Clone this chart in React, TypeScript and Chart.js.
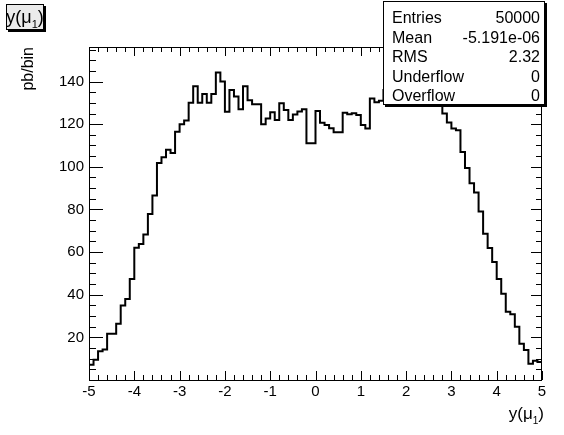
import React, { useEffect, useRef } from 'react';
import { Chart, registerables } from 'chart.js';

Chart.register(...registerables);

// ---- data ----
const X_MIN = -5;
const X_MAX = 5;
const BIN_WIDTH = 0.1;
const BIN_VALUES = [
  7.2, 9.5, 13.5, 14.3, 21.7, 21.7, 26.4, 34.9, 38.0, 47.4,
  62.0, 63.8, 68.2, 77.9, 86.6, 101.8, 104.5, 108.0, 106.5, 116.5,
  120.0, 121.7, 130.1, 137.8, 130.1, 134.1, 130.1, 134.1, 144.2, 140.0,
  125.8, 136.0, 133.0, 127.0, 137.8, 131.2, 129.3, 129.3, 120.0, 122.7,
  125.6, 122.0, 129.8, 126.7, 122.0, 124.5, 126.0, 127.0, 111.0, 111.0,
  126.2, 120.7, 119.6, 118.1, 116.2, 116.2, 125.4, 124.6, 125.1, 124.3,
  119.6, 118.0, 132.0, 130.3, 131.0, 136.0, 133.0, 139.0, 135.0, 142.0,
  137.0, 148.7, 138.0, 140.0, 134.0, 136.0, 132.0, 130.0, 125.0, 120.8,
  118.0, 117.2, 107.0, 99.4, 92.3, 88.0, 79.0, 68.6, 61.9, 55.3,
  47.4, 40.5, 32.0, 30.8, 25.0, 17.0, 14.1, 7.6, 9.0, 8.4,
];
const X_TICKS = [-5, -4, -3, -2, -1, 0, 1, 2, 3, 4, 5];
const X_MINOR_STEP = 0.2;
const Y_TICKS = [20, 40, 60, 80, 100, 120, 140];
const Y_MINOR_STEP = 5;
const Y_MIN = 0;
const Y_MAX = 156.2;
const STATS_LABELS = ['Entries', 'Mean', 'RMS', 'Underflow', 'Overflow'];
const STATS_VALUES = ['50000', '-5.191e-06', '2.32', '0', '0'];
const Y_TITLE = 'pb/bin';
const VAR_MAIN = 'y(\u03bc';
const VAR_SUB = '1';
const VAR_CLOSE = ')';

const FONT = '"Liberation Sans", Arial, Helvetica, sans-serif';

function drawVarLabel(ctx: CanvasRenderingContext2D, x: number, y: number, size: number, align: 'left' | 'right' | 'center') {
  ctx.save();
  ctx.textBaseline = 'alphabetic';
  ctx.textAlign = 'left';
  ctx.font = `${size}px ${FONT}`;
  const w1 = ctx.measureText(VAR_MAIN).width;
  const w3 = ctx.measureText(VAR_CLOSE).width;
  ctx.font = `${Math.round(size * 0.6)}px ${FONT}`;
  const w2 = ctx.measureText(VAR_SUB).width;
  const total = w1 + w2 + w3;
  let sx = x;
  if (align === 'right') sx = x - total;
  if (align === 'center') sx = x - total / 2;
  ctx.fillStyle = '#000';
  ctx.font = `${size}px ${FONT}`;
  ctx.fillText(VAR_MAIN, sx, y);
  ctx.font = `${Math.round(size * 0.6)}px ${FONT}`;
  ctx.fillText(VAR_SUB, sx + w1, y + size * 0.3);
  ctx.font = `${size}px ${FONT}`;
  ctx.fillText(VAR_CLOSE, sx + w1 + w2, y);
  ctx.restore();
}

const decorPlugin = {
  id: 'rootDecor',
  afterDraw(chart: any) {
    const ctx: CanvasRenderingContext2D = chart.ctx;
    const { left, right, top, bottom } = chart.chartArea;
    const xs = chart.scales.x;
    const ys = chart.scales.y;
    ctx.save();
    ctx.strokeStyle = '#000';
    ctx.lineWidth = 1;
    // frame
    ctx.strokeRect(Math.round(left) + 0.5, Math.round(top) + 0.5, Math.round(right - left) - 1, Math.round(bottom - top));
    ctx.beginPath();
    // x ticks (bottom and top)
    const nMinorX = Math.round((X_MAX - X_MIN) / X_MINOR_STEP);
    for (let i = 0; i <= nMinorX; i++) {
      const v = X_MIN + i * X_MINOR_STEP;
      const isMajor = X_TICKS.some((t) => Math.abs(t - v) < 1e-6);
      const px = Math.round(xs.getPixelForValue(v)) + 0.5;
      const len = isMajor ? 9 : 5;
      ctx.moveTo(px, bottom);
      ctx.lineTo(px, bottom - len);
      ctx.moveTo(px, top);
      ctx.lineTo(px, top + len);
    }
    // y ticks (left and right)
    const nMinorY = Math.floor((Y_MAX - Y_MIN) / Y_MINOR_STEP);
    for (let i = 1; i <= nMinorY; i++) {
      const v = Y_MIN + i * Y_MINOR_STEP;
      const isMajor = Y_TICKS.includes(v);
      const py = Math.round(ys.getPixelForValue(v)) + 0.5;
      ctx.moveTo(left, py);
      ctx.lineTo(left + (isMajor ? 14 : 7), py);
      ctx.moveTo(right, py);
      ctx.lineTo(right - (isMajor ? 11 : 6), py);
    }
    ctx.stroke();

    // y axis title
    ctx.save();
    ctx.translate(29, top);
    ctx.rotate(-Math.PI / 2);
    ctx.font = `16px ${FONT}`;
    ctx.fillStyle = '#000';
    ctx.textAlign = 'right';
    ctx.textBaseline = 'middle';
    ctx.fillText(Y_TITLE, 0, 0);
    ctx.restore();

    // x axis title
    drawVarLabel(ctx, right + 2, 419, 17, 'right');

    // title box
    const tb = { x: 6, y: 4, w: 38, h: 26 };
    ctx.fillStyle = '#000';
    ctx.fillRect(tb.x + 2, tb.y + 2, tb.w, tb.h);
    ctx.fillStyle = '#ebebeb';
    ctx.fillRect(tb.x, tb.y, tb.w, tb.h);
    ctx.strokeRect(tb.x + 0.5, tb.y + 0.5, tb.w - 1, tb.h - 1);
    drawVarLabel(ctx, tb.x + tb.w / 2, tb.y + 19, 18, 'center');

    // stats box
    const sb = { x: 383, y: 1, w: 162, h: 104 };
    ctx.fillStyle = '#000';
    ctx.fillRect(sb.x + 2, sb.y + 2, sb.w, sb.h);
    ctx.fillStyle = '#fff';
    ctx.fillRect(sb.x, sb.y, sb.w, sb.h);
    ctx.strokeRect(sb.x + 0.5, sb.y + 0.5, sb.w - 1, sb.h - 1);
    ctx.font = `16px ${FONT}`;
    ctx.fillStyle = '#000';
    ctx.textBaseline = 'alphabetic';
    const rowH = 19.5;
    for (let i = 0; i < STATS_LABELS.length; i++) {
      const base = sb.y + 22 + i * rowH;
      ctx.textAlign = 'left';
      ctx.fillText(STATS_LABELS[i], sb.x + 9, base);
      ctx.textAlign = 'right';
      ctx.fillText(STATS_VALUES[i], sb.x + sb.w - 5, base);
    }
    ctx.restore();
  },
};

export default function App() {
  const canvasRef = useRef<HTMLCanvasElement | null>(null);

  useEffect(() => {
    const canvas = canvasRef.current;
    if (!canvas) return;
    const points: { x: number; y: number }[] = BIN_VALUES.map((v, i) => ({ x: X_MIN + i * BIN_WIDTH, y: v }));
    points.push({ x: X_MAX, y: BIN_VALUES[BIN_VALUES.length - 1] });

    const chart = new Chart(canvas, {
      type: 'scatter',
      data: {
        datasets: [
          {
            data: points,
            showLine: true,
            stepped: 'before',
            borderColor: '#000',
            borderWidth: 2,
            pointRadius: 0,
            fill: false,
          } as any,
        ],
      },
      options: {
        animation: false,
        responsive: false,
        devicePixelRatio: 1,
        layout: { padding: { top: 47, right: 22, left: 0, bottom: 0 } },
        plugins: {
          legend: { display: false },
          tooltip: { enabled: false },
          title: { display: false },
        },
        scales: {
          x: {
            type: 'linear',
            min: X_MIN,
            max: X_MAX,
            grid: { display: false, drawTicks: false },
            border: { display: false },
            afterBuildTicks: (s: any) => {
              s.ticks = X_TICKS.map((v) => ({ value: v }));
            },
            afterFit: (s: any) => {
              s.height = 55;
            },
            ticks: {
              color: '#000',
              font: { family: FONT, size: 15 },
              padding: 3,
              maxRotation: 0,
              autoSkip: false,
              callback: (v: any) => String(v),
            },
          },
          y: {
            type: 'linear',
            min: Y_MIN,
            max: Y_MAX,
            grid: { display: false, drawTicks: false },
            border: { display: false },
            afterBuildTicks: (s: any) => {
              s.ticks = Y_TICKS.map((v) => ({ value: v }));
            },
            afterFit: (s: any) => {
              s.width = 89;
            },
            ticks: {
              color: '#000',
              font: { family: FONT, size: 15 },
              padding: 5,
              autoSkip: false,
              callback: (v: any) => String(v),
            },
          },
        },
      } as any,
      plugins: [decorPlugin],
    });
    return () => chart.destroy();
  }, []);

  return (
    <div style={{ position: 'absolute', left: 0, top: 0, width: 564, height: 435, background: '#fff' }}>
      <canvas ref={canvasRef} width={564} height={435} style={{ display: 'block', width: 564, height: 435 }} />
    </div>
  );
}
